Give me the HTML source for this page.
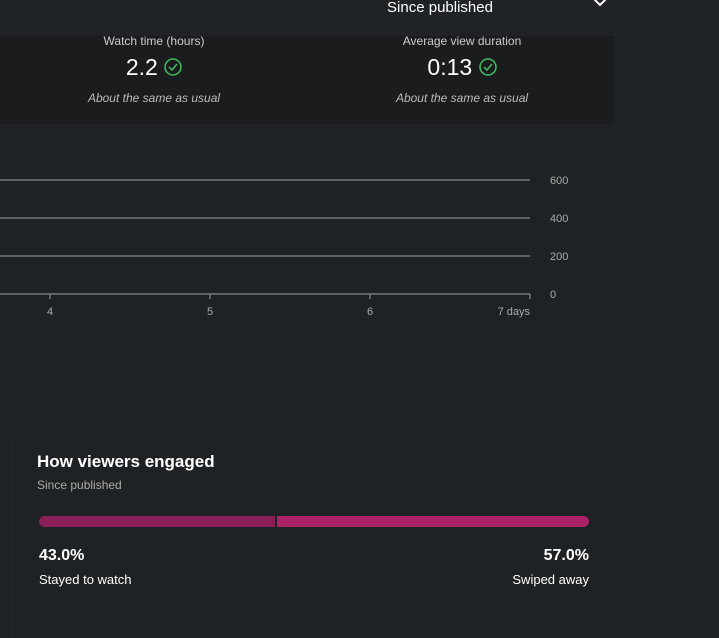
<!DOCTYPE html>
<html><head><style>
*{margin:0;padding:0;box-sizing:border-box}
html,body{width:719px;height:638px;overflow:hidden}
body{background:#1f2224;font-family:"Liberation Sans",sans-serif;position:relative;color:#fff}
.abs{position:absolute}
.c{text-align:center}
</style></head><body>
<div class="abs" style="left:0;top:0;width:719px;height:36px;background:#202325"></div>
<div class="abs c" style="left:330px;top:-1px;width:220px;font-size:15px;color:#fff;">Since published</div>
<svg class="abs" style="left:592px;top:0" width="16" height="8"><path d="M2,-1 L8,5 L14,-1" stroke="#fff" stroke-width="2" fill="none"/></svg>
<div class="abs" style="left:0;top:36px;width:614px;height:88px;background:#1a1c1e"></div>
<div class="abs c" style="left:54px;top:34px;width:200px;font-size:12px;color:#ccc">Watch time (hours)</div>
<div class="abs c" style="left:54px;top:54px;width:200px;font-size:23px;color:#fff">2.2 <svg width="18" height="18" style="vertical-align:-1px"><circle cx="9" cy="9" r="8" stroke="#3fbf5f" stroke-width="1.5" fill="none"/><path d="M5,9 L8,12 L13,6" stroke="#3fbf5f" stroke-width="1.5" fill="none"/></svg></div>
<div class="abs c" style="left:54px;top:91px;width:200px;font-size:12px;font-style:italic;color:#bbb">About the same as usual</div>
<div class="abs c" style="left:362px;top:34px;width:200px;font-size:12px;color:#ccc">Average view duration</div>
<div class="abs c" style="left:362px;top:54px;width:200px;font-size:23px;color:#fff">0:13 <svg width="18" height="18" style="vertical-align:-1px"><circle cx="9" cy="9" r="8" stroke="#3fbf5f" stroke-width="1.5" fill="none"/><path d="M5,9 L8,12 L13,6" stroke="#3fbf5f" stroke-width="1.5" fill="none"/></svg></div>
<div class="abs c" style="left:362px;top:91px;width:200px;font-size:12px;font-style:italic;color:#bbb">About the same as usual</div>
<div class="abs" style="left:-12px;top:124px;width:626px;height:279px;border:1px solid #232628;border-radius:0 0 12px 12px;border-top:none"></div>
<svg class="abs" style="left:0;top:170px" width="614" height="160" font-family="Liberation Sans" font-size="11" fill="#aaa">
<g stroke="#777" stroke-width="1.5">
<line x1="0" y1="10" x2="530" y2="10"/><line x1="0" y1="48" x2="530" y2="48"/><line x1="0" y1="86" x2="530" y2="86"/><line x1="0" y1="124" x2="530" y2="124"/>
<line x1="50" y1="124" x2="50" y2="129"/><line x1="210" y1="124" x2="210" y2="129"/><line x1="370" y1="124" x2="370" y2="129"/><line x1="530" y1="124" x2="530" y2="129"/>
</g>
<text x="550" y="14">600</text><text x="550" y="52">400</text><text x="550" y="90">200</text><text x="550" y="128">0</text>
<text x="50" y="145" text-anchor="middle">4</text><text x="210" y="145" text-anchor="middle">5</text><text x="370" y="145" text-anchor="middle">6</text><text x="530" y="145" text-anchor="end">7 days</text>
</svg>
<div class="abs" style="left:12px;top:427px;width:602px;height:240px;border:1px solid #232628;border-radius:12px"></div>
<div class="abs" style="left:37px;top:452px;font-size:17px;font-weight:bold">How viewers engaged</div>
<div class="abs" style="left:37px;top:478px;font-size:12px;color:#aaa">Since published</div>
<div class="abs" style="left:39px;top:516px;width:236px;height:11px;background:#8a1e57;border-radius:6px 0 0 6px"></div>
<div class="abs" style="left:277px;top:516px;width:312px;height:11px;background:#ac2267;border-radius:0 6px 6px 0"></div>
<div class="abs" style="left:39px;top:547px;font-size:16px;font-weight:bold">43.0%</div>
<div class="abs" style="left:39px;top:572px;font-size:13px">Stayed to watch</div>
<div class="abs" style="left:389px;top:547px;width:200px;text-align:right;font-size:16px;font-weight:bold">57.0%</div>
<div class="abs" style="left:389px;top:572px;width:200px;text-align:right;font-size:13px">Swiped away</div>
</body></html>
